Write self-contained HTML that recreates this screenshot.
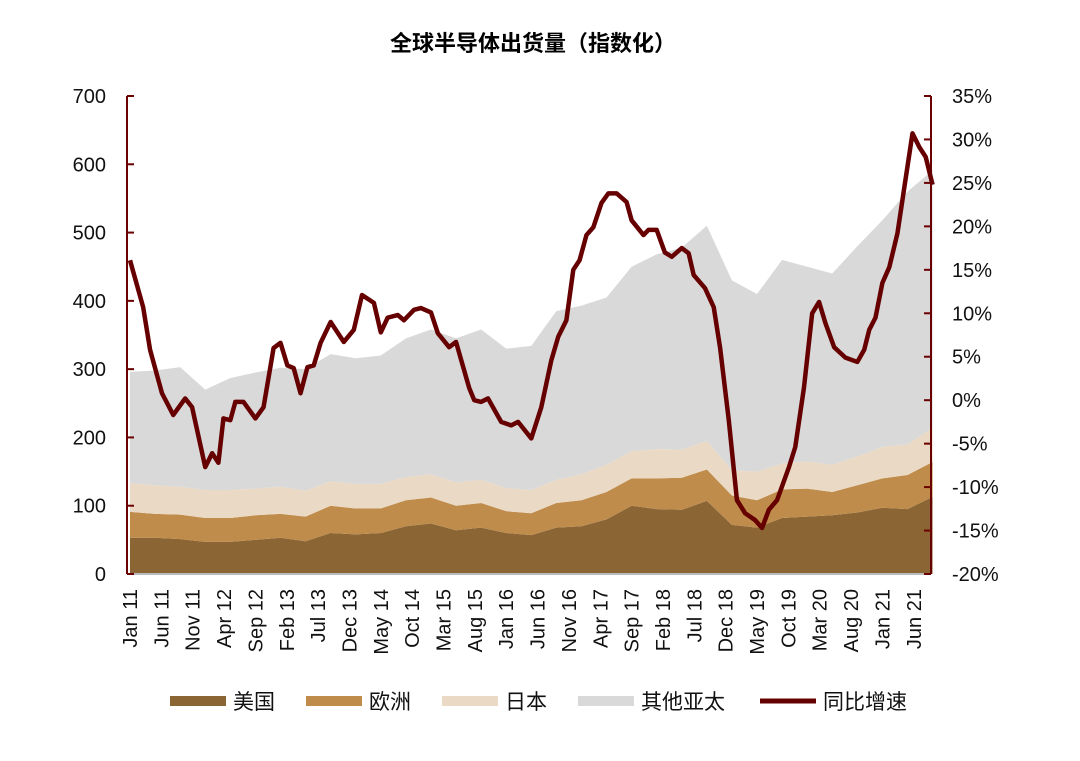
<!DOCTYPE html>
<html><head><meta charset="utf-8"><style>
body{margin:0;background:#fff;width:1080px;height:756px;overflow:hidden;font-family:"Liberation Sans","Noto Sans CJK SC",sans-serif}
</style></head><body>
<svg id="chart" width="1080" height="756" xmlns="http://www.w3.org/2000/svg" font-family="Liberation Sans, Noto Sans CJK SC, sans-serif">
<text x="533" y="51" text-anchor="middle" font-size="22" font-weight="bold" fill="#000">全球半导体出货量（指数化）</text>
<g id="areas"></g><g id="axes"></g><g id="lineg"></g><g id="legend"></g>
</svg>
<script>
const areaMonths=[0,4,8,12,16,20,24,28,32,36,40,44,48,52,56,60,64,68,72,76,80,84,88,92,96,100,104,108,112,116,120,124,128];
const usVals=[53,53,51,47,47,50,53,48,60,58,60,70,74,64,68,60,57,68,70,80,100,95,94,107,72,68,82,84,86,90,97,95,113];
const euVals=[38,35,36,35,35,36,35,36,40,38,36,38,38,36,36,32,32,36,38,40,40,45,47,46,43,40,42,41,34,40,43,50,51];
const jpVals=[42,42,41,41,41,39,40,38,36,36,36,34,34,34,34,34,34,34,38,40,40,43,41,42,37,42,38,40,40,42,46,45,50];
const otherVals=[163,168,175,147,164,170,174,178,186,184,188,203,212,211,220,204,211,247,247,245,270,285,296,315,278,260,298,285,280,308,332,370,377];
const lineMonths=[0,2.1,3.2,5.1,6.9,8.8,9.9,12,13.1,14.1,14.9,16,16.8,18.1,20,21.3,22.9,24,25.1,26.1,27.2,28.3,29.3,30.4,32,34.1,35.7,37,38.9,40,41.1,42.7,43.7,45.3,46.4,48,49.1,50.9,52,54.1,54.9,56,57.1,59.2,60.8,61.9,64,65.6,67.2,68.3,69.6,70.7,71.7,72.8,73.9,75.2,76.3,77.6,79.2,80,81.9,82.7,84,85.3,86.4,88,89.1,89.9,91.7,93.1,94.1,95.5,96.8,98.1,99.7,100.8,101.9,103.2,105.1,106.1,107.5,108.8,109.9,110.9,112.3,114.1,116,117.1,117.9,118.9,120,121.1,122.4,123.5,124.8,125.9,126.9,128];
const lineVals=[16.1,10.7,5.8,0.8,-1.7,0.2,-0.8,-7.7,-6.1,-7.2,-2.1,-2.3,-0.2,-0.2,-2.1,-0.8,6.0,6.6,4.0,3.7,0.8,3.8,4.0,6.6,9.0,6.7,8.1,12.1,11.2,7.8,9.5,9.8,9.2,10.4,10.6,10.1,7.7,6.1,6.7,1.4,0.0,-0.2,0.2,-2.5,-2.9,-2.5,-4.4,-0.8,4.6,7.3,9.2,15.0,16.1,19.0,19.9,22.7,23.8,23.8,22.8,20.7,19.0,19.6,19.6,17.0,16.5,17.5,16.9,14.4,12.9,10.7,6.1,-2.3,-11.5,-13.0,-13.8,-14.7,-12.6,-11.5,-7.7,-5.4,1.5,10.0,11.3,8.9,6.1,4.9,4.4,5.8,8.1,9.5,13.5,15.3,19.2,24.5,30.7,29.1,28.0,24.8];
const leftTicks=[0,100,200,300,400,500,600,700];
const rightTicks=[-20,-15,-10,-5,0,5,10,15,20,25,30,35];
const xLabels=["Jan 11","Jun 11","Nov 11","Apr 12","Sep 12","Feb 13","Jul 13","Dec 13","May 14","Oct 14","Mar 15","Aug 15","Jan 16","Jun 16","Nov 16","Apr 17","Sep 17","Feb 18","Jul 18","Dec 18","May 19","Oct 19","Mar 20","Aug 20","Jan 21","Jun 21"];
const NS="http://www.w3.org/2000/svg";
const X0=130,XM=6.27,YB=574,YT=96;
const xs=m=>X0+m*XM;
const yl=v=>YB-(v/700)*(YB-YT);
const yr=p=>YB-((p+20)/55)*(YB-YT);
function mk(tag,attrs,parent){const e=document.createElementNS(NS,tag);for(const k in attrs)e.setAttribute(k,attrs[k]);parent.appendChild(e);return e;}
const areas=document.getElementById('areas');
const series=[["us-area",usVals,"#8b6634"],["europe-area",euVals,"#bf8c4c"],["japan-area",jpVals,"#ead9c4"],["other-apac-area",otherVals,"#d9d9d9"]];
let base=areaMonths.map(()=>0);
series.forEach(([name,vals,col])=>{
  const top=base.map((b,i)=>b+vals[i]);
  let d="M"+areaMonths.map((m,i)=>xs(m)+","+yl(top[i])).join("L");
  for(let i=areaMonths.length-1;i>=0;i--)d+="L"+xs(areaMonths[i])+","+yl(base[i]);
  d+="Z";
  const p=mk('path',{d:d,fill:col},areas);
  
  
  base=top;
});
const ax=document.getElementById('axes');
const bl=mk('line',{x1:127,y1:YB,x2:930,y2:YB,stroke:"#bbb","stroke-width":2},ax);


const la=mk('line',{x1:127,y1:YT,x2:127,y2:YB,stroke:"#6b0000","stroke-width":2},ax);


const ra=mk('line',{x1:931,y1:YT,x2:931,y2:YB,stroke:"#6b0000","stroke-width":2},ax);


leftTicks.forEach(v=>{
  mk('line',{x1:127,y1:yl(v),x2:134,y2:yl(v),stroke:"#6b0000","stroke-width":2},ax);
  const t=mk('text',{x:106,y:yl(v)+7,"text-anchor":"end","font-size":20,fill:"#111"},ax);
  t.textContent=v;
  
  
});
rightTicks.forEach(v=>{
  mk('line',{x1:924,y1:yr(v),x2:931,y2:yr(v),stroke:"#6b0000","stroke-width":2},ax);
  const t=mk('text',{x:952,y:yr(v)+7,"text-anchor":"start","font-size":20,fill:"#111"},ax);
  t.textContent=v+"%";
  
  
});
xLabels.forEach((s,i)=>{
  const x=xs(i*5)+7,y=589;
  const t=mk('text',{x:x,y:y,"text-anchor":"end","font-size":20,fill:"#111",transform:`rotate(-90 ${x} ${y})`},ax);
  t.textContent=s;
  
  
});
const lg=document.getElementById('lineg');
const lp=mk('path',{d:"M"+lineMonths.map((m,i)=>xs(m)+","+yr(lineVals[i])).join("L"),fill:"none",stroke:"#660000","stroke-width":4.5,"stroke-linejoin":"round"},lg);


const leg=document.getElementById('legend');
const legItems=[["美国","#8b6634",170,10],["欧洲","#bf8c4c",306,10],["日本","#ead9c4",442,10],["其他亚太","#d9d9d9",578,10],["同比增速","#660000",760,5]];
legItems.forEach(([s,c,x,h])=>{
  const g=mk('g',{},leg);
  
  
  mk('rect',{x:x,y:701-h/2,width:56,height:h,fill:c},g);
  const t=mk('text',{x:x+63,y:709,"font-size":21,fill:"#111"},g);
  t.textContent=s;
});
</script>
</body></html>
